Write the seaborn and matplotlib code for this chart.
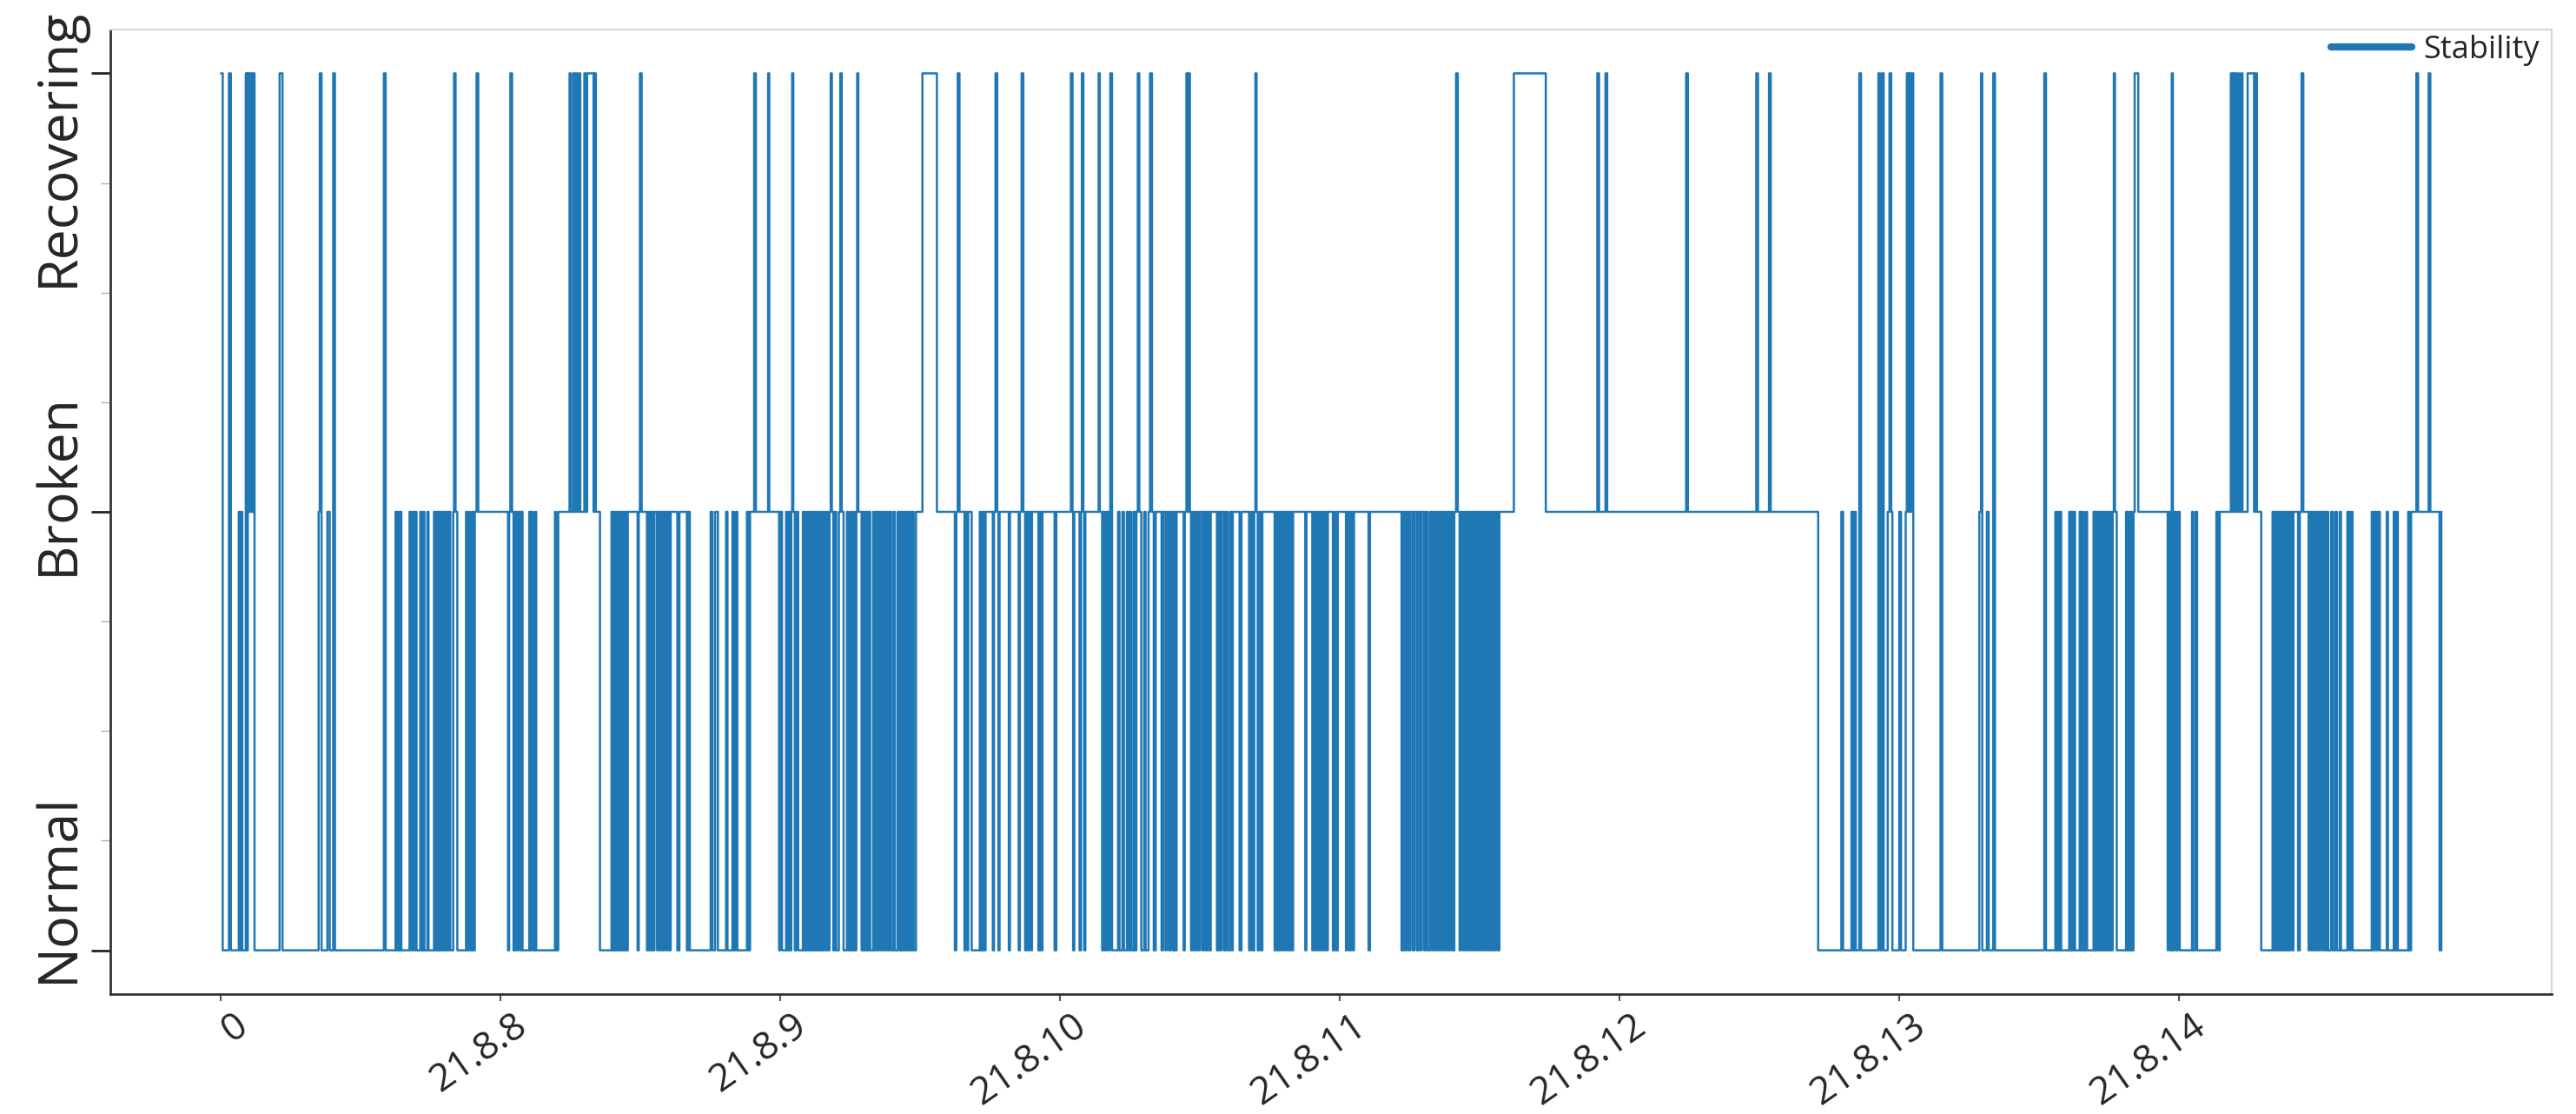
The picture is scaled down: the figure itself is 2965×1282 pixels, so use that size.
import matplotlib
matplotlib.use('Agg')
import matplotlib.pyplot as plt
import matplotlib.transforms as mtransforms
from matplotlib.ticker import MultipleLocator
import seaborn as sns
import pandas as pd

sns.set_style('white')
plt.rcParams['font.family'] = ['Open Sans', 'DejaVu Sans']

state_names = ['Normal', 'Broken', 'Recovering']   # 0, 1, 2
day_ticks = [0, 24, 48, 72, 96, 120, 144, 168]     # hours since start
day_labels = ['0', '21.8.8', '21.8.9', '21.8.10', '21.8.11', '21.8.12', '21.8.13', '21.8.14']
LINE_BLUE = '#1f77b4'

# state changes, (hour since start, new state)
changes_a = [(0.0, 2), (0.15, 0), (0.68, 2), (0.85, 0), (1.53, 1), (1.63, 0), (1.73, 1), (1.83, 0),
             (2.13, 2), (2.23, 0), (2.3, 2), (2.43, 1), (2.53, 2), (2.68, 1), (2.78, 2), (2.88, 0),
             (5.03, 2), (5.28, 0), (8.38, 1), (8.48, 2), (8.63, 0), (9.13, 1), (9.33, 0), (9.63, 2),
             (9.78, 0), (13.98, 2), (14.13, 0), (14.98, 1), (15.08, 0), (15.18, 1), (15.28, 0),
             (15.38, 1), (15.48, 0), (16.18, 1), (16.3, 0), (16.43, 1), (16.55, 0), (16.66, 1),
             (16.78, 0), (17.1, 1), (17.2, 0), (17.36, 1), (17.46, 0), (17.71, 1), (17.81, 0),
             (18.28, 1), (18.38, 0), (18.53, 1), (18.63, 0), (18.73, 1), (18.83, 0), (18.93, 1),
             (19.03, 0), (19.18, 1), (19.28, 0), (19.38, 1), (19.48, 0), (19.58, 1), (19.68, 0),
             (19.93, 1), (20.0, 2), (20.13, 1), (20.28, 0), (21.03, 1), (21.13, 0), (21.23, 1),
             (21.36, 0), (21.53, 1), (21.63, 0), (21.78, 1), (21.93, 2), (22.08, 1), (24.63, 0),
             (24.73, 1), (24.83, 2), (24.98, 1), (25.1, 0), (25.23, 1), (25.38, 0), (25.48, 1),
             (25.63, 0), (25.78, 1), (25.88, 0)]

changes_b = [(26.45, 1), (26.55, 0), (26.65, 1), (26.77, 0), (26.95, 1), (27.05, 0), (28.66, 1),
             (28.76, 0), (28.94, 1), (29.91, 2), (30.01, 1), (30.21, 2), (30.33, 1), (30.45, 2),
             (30.58, 1), (30.73, 2), (30.83, 1), (31.18, 2), (31.3, 1), (31.42, 2), (31.97, 1),
             (32.05, 2), (32.17, 1), (32.52, 0), (33.51, 1), (33.61, 0), (33.71, 1), (33.81, 0),
             (33.91, 1), (34.01, 0), (34.11, 1), (34.21, 0), (34.31, 1), (34.41, 0), (34.51, 1),
             (34.61, 0), (34.71, 1), (34.81, 0), (34.91, 1), (35.75, 0), (35.85, 1), (35.95, 2),
             (36.1, 1), (36.55, 0), (36.67, 1), (36.8, 0), (36.92, 1), (37.05, 0), (37.2, 1),
             (37.42, 0), (37.54, 1), (37.67, 0), (37.79, 1), (37.92, 0), (38.04, 1), (38.19, 0),
             (38.29, 1), (38.44, 0), (38.59, 1), (39.16, 0), (39.34, 1), (39.98, 0), (40.11, 1),
             (40.23, 0), (42.02, 1), (42.17, 0), (42.4, 1), (42.64, 0), (43.34, 1), (43.46, 0),
             (43.89, 1), (44.01, 0), (44.19, 1), (44.31, 0), (45.13, 1), (45.25, 0), (45.4, 1),
             (45.75, 2), (45.9, 1), (46.95, 2), (47.05, 1), (47.89, 0), (47.99, 1), (48.14, 0),
             (48.49, 1), (48.59, 0), (48.69, 1), (48.81, 0), (48.94, 1), (49.01, 2), (49.11, 1),
             (49.24, 0), (49.38, 1), (49.53, 0), (49.93, 1), (50.03, 0), (50.18, 1), (50.3, 0),
             (50.43, 1), (50.53, 0), (50.68, 1), (50.78, 0), (50.93, 1), (51.05, 0), (51.18, 1),
             (51.3, 0), (51.47, 1), (51.57, 0), (51.72, 1), (51.85, 0), (51.97, 1), (52.1, 0),
             (52.22, 1), (52.32, 2), (52.42, 1), (52.54, 0), (52.67, 1), (52.79, 0), (53.02, 1),
             (53.14, 2), (53.27, 1), (53.42, 0), (53.71, 1), (53.84, 0)]

changes_c = [(54.02, 1), (54.12, 0), (54.27, 1), (54.39, 0), (54.52, 1), (54.59, 2), (54.69, 1),
             (54.97, 0), (55.09, 1), (55.21, 0), (55.34, 1), (55.46, 0), (55.59, 1), (55.71, 0),
             (55.96, 1), (56.08, 0), (56.21, 1), (56.33, 0), (56.46, 1), (56.61, 0), (56.76, 1),
             (56.91, 0), (57.08, 1), (57.2, 0), (57.35, 1), (57.5, 0), (57.7, 1), (57.83, 0),
             (58.07, 1), (58.2, 0), (58.35, 1), (58.45, 0), (58.6, 1), (58.7, 0), (58.82, 1),
             (58.95, 0), (59.07, 1), (59.19, 0), (59.32, 1), (59.44, 0), (59.64, 1), (60.19, 2),
             (61.43, 1), (62.97, 0), (63.1, 1), (63.22, 2), (63.37, 1), (63.8, 0), (63.87, 1),
             (64.04, 0), (64.12, 1), (64.42, 0), (65.11, 1), (65.21, 0), (65.36, 1), (65.46, 0),
             (65.61, 1), (66.23, 0), (66.33, 1), (66.46, 2), (66.61, 1), (66.71, 0), (66.81, 1),
             (67.6, 0), (67.7, 1), (68.45, 0), (68.55, 1), (68.7, 2), (68.85, 1), (69.0, 0),
             (69.1, 1), (69.24, 0), (69.34, 1), (69.52, 0), (69.59, 1), (70.14, 0), (70.26, 1),
             (70.39, 0), (70.49, 1), (71.53, 0), (71.68, 1), (72.93, 2), (73.07, 1), (73.12, 0),
             (73.22, 1), (73.67, 0), (73.8, 1), (73.87, 2), (74.0, 1), (74.07, 0), (74.17, 1),
             (75.31, 2), (75.41, 1), (75.61, 0), (75.74, 1), (75.86, 0), (76.01, 1), (76.18, 0),
             (76.31, 2), (76.46, 0), (76.98, 1), (77.1, 0), (77.35, 1), (77.48, 0), (77.73, 1),
             (77.85, 0), (77.97, 1), (78.1, 0), (78.3, 1), (78.4, 0), (78.55, 1), (78.67, 2),
             (78.8, 1), (78.97, 0), (79.22, 1), (79.34, 0), (79.59, 1), (79.72, 2), (79.89, 1),
             (80.04, 0), (80.21, 1), (80.71, 0), (80.84, 1), (81.04, 0), (81.14, 1), (81.33, 0),
             (81.48, 1)]

changes_d = [(81.65, 0), (81.75, 1), (81.85, 0), (82.0, 1), (82.6, 0), (82.7, 1), (82.84, 2),
             (82.94, 1), (83.04, 2), (83.14, 1), (83.24, 0), (83.39, 1), (83.54, 0), (83.69, 1),
             (83.84, 0), (83.99, 1), (84.19, 0), (84.34, 1), (84.49, 0), (84.63, 1), (84.78, 0),
             (84.93, 1), (85.46, 0), (85.58, 1), (85.73, 0), (85.88, 1), (86.08, 0), (86.23, 1),
             (86.38, 0), (86.58, 1), (86.72, 0), (86.82, 1), (87.4, 0), (87.57, 1), (88.22, 0),
             (88.37, 1), (88.52, 0), (88.66, 1), (88.76, 2), (88.86, 1), (88.96, 0), (89.11, 1),
             (89.26, 0), (89.36, 1), (90.41, 0), (90.56, 1), (90.7, 0), (90.85, 1), (91.0, 0),
             (91.15, 1), (91.3, 0), (91.45, 1), (91.6, 0), (91.75, 1), (91.9, 0), (92.0, 1),
             (93.04, 0), (93.14, 1), (93.64, 0), (93.79, 1), (93.94, 0), (94.09, 1), (94.24, 0),
             (94.39, 1), (94.54, 0), (94.68, 1), (94.83, 0), (94.98, 1), (95.41, 0), (95.58, 1),
             (95.73, 0), (95.83, 1), (96.53, 0), (96.68, 1), (96.83, 0), (96.97, 1), (97.12, 0),
             (97.22, 1), (98.47, 0), (98.59, 1), (101.3, 0), (101.45, 1), (101.6, 0), (101.75, 1),
             (101.9, 0), (102.05, 1), (102.25, 0), (102.4, 1), (102.6, 0), (102.74, 1), (102.89, 0),
             (103.04, 1), (103.24, 0), (103.39, 1), (103.54, 0), (103.74, 1), (103.89, 0),
             (104.04, 1), (104.19, 0), (104.34, 1), (104.49, 0), (104.64, 1), (104.78, 0),
             (104.93, 1), (105.08, 0), (105.23, 1), (105.38, 0), (105.53, 1), (105.68, 0),
             (105.83, 1), (105.98, 2), (106.13, 1), (106.28, 0), (106.43, 1), (106.58, 0),
             (106.72, 1), (106.87, 0), (107.02, 1), (107.17, 0), (107.32, 1), (107.47, 0),
             (107.62, 1), (107.77, 0), (107.92, 1), (108.07, 0), (108.22, 1), (108.37, 0),
             (108.52, 1), (108.67, 0), (108.81, 1), (108.96, 0), (109.11, 1)]

changes_e = [(109.25, 0), (109.4, 1), (109.55, 0), (109.7, 1), (110.94, 2), (113.68, 1),
             (118.1, 2), (118.25, 1), (118.8, 2), (118.95, 1), (125.72, 2), (125.87, 1),
             (131.74, 2), (131.89, 1), (132.83, 2), (132.98, 1)]

changes_f = [(137.05, 0), (139.04, 1), (139.19, 0), (139.91, 1), (140.03, 0), (140.16, 1),
             (140.28, 0), (140.58, 2), (140.73, 0), (142.22, 2), (142.37, 0), (142.52, 2),
             (142.67, 0), (143.02, 1), (143.17, 2), (143.32, 1), (143.42, 0), (144.01, 1),
             (144.16, 0), (144.56, 1), (144.66, 2), (144.76, 1), (144.86, 2), (144.96, 1),
             (145.06, 2), (145.21, 0), (147.55, 2), (147.7, 0), (150.88, 1), (151.03, 2),
             (151.13, 0), (151.53, 1), (151.68, 0), (152.07, 2), (152.22, 0), (156.45, 2),
             (156.6, 0), (157.4, 1), (157.5, 0), (157.6, 1), (157.7, 0), (157.8, 1), (157.9, 0),
             (158.59, 1), (158.69, 0), (158.79, 1), (158.89, 0), (158.99, 1), (159.09, 0),
             (159.49, 1), (159.59, 0), (159.74, 1), (159.84, 0), (160.03, 1), (160.13, 0),
             (160.68, 1), (160.78, 0), (160.88, 1), (160.98, 0), (161.08, 1), (161.18, 0),
             (161.28, 1), (161.38, 0), (161.48, 1), (161.58, 0), (161.68, 1), (161.78, 0),
             (161.88, 1), (161.98, 0), (162.07, 1), (162.17, 0), (162.32, 1), (162.42, 2),
             (162.52, 1), (162.67, 0), (163.47, 1), (163.57, 0), (163.72, 1), (163.82, 0),
             (163.92, 1), (164.01, 0), (164.11, 1), (164.21, 2)]

changes_g = [(164.52, 1), (167.04, 0), (167.14, 1), (167.29, 0), (167.39, 2), (167.49, 0),
             (167.63, 1), (167.78, 0), (167.93, 1), (168.08, 0), (169.13, 1), (169.23, 0),
             (169.43, 1), (169.57, 0), (171.22, 1), (171.37, 0), (171.51, 1), (172.46, 2),
             (172.56, 1), (172.66, 2), (172.76, 1), (172.86, 2), (172.96, 1), (173.11, 2),
             (173.21, 1), (173.36, 2), (173.46, 1), (173.9, 2), (174.45, 1), (174.55, 2),
             (174.7, 1), (175.07, 0), (176.04, 1), (176.14, 0), (176.24, 1), (176.34, 0),
             (176.44, 1), (176.54, 0), (176.64, 1), (176.74, 0), (176.84, 1), (176.94, 0),
             (177.09, 1), (177.19, 0), (177.34, 1), (177.44, 0), (177.58, 1), (177.73, 0),
             (177.83, 1), (178.23, 0), (178.38, 1), (178.53, 2), (178.68, 1), (179.13, 0),
             (179.23, 1), (179.38, 0), (179.53, 1), (179.67, 0), (179.82, 1), (179.97, 0),
             (180.12, 1), (180.27, 0), (180.42, 1), (180.57, 0), (180.72, 1), (180.82, 0),
             (181.07, 1), (181.22, 0), (181.42, 1), (181.57, 0), (181.81, 1), (181.91, 0),
             (182.46, 1), (182.61, 0), (182.76, 1), (182.91, 0), (184.55, 1), (184.65, 0),
             (184.8, 1), (184.95, 0), (185.1, 1), (185.25, 0), (185.84, 1), (185.94, 0),
             (186.44, 1), (186.54, 0), (186.69, 1), (186.79, 0), (187.68, 1), (187.78, 0),
             (187.93, 1), (188.38, 2), (188.53, 1), (189.43, 2), (189.58, 1), (190.37, 0),
             (190.52, 1), (190.55, 1)]

rows = changes_a + changes_b + changes_c + changes_d + changes_e + changes_f + changes_g
df = pd.DataFrame(rows, columns=['hour', 'state'])

fig = plt.figure(figsize=(29.65, 12.82), dpi=100)
ax = fig.add_axes([0.0428, 0.1076, 0.9478, 0.8659])

sns.lineplot(data=df, x='hour', y='state', ax=ax, color=LINE_BLUE, linewidth=1.8,
             drawstyle='steps-post', estimator=None, label='Stability')

ax.set_xlim(-9.5, 200.0)
ax.set_ylim(-0.1, 2.1)
ax.set_xlabel('')
ax.set_ylabel('')

ax.set_yticks([0, 1, 2])
ax.set_yticklabels(state_names, rotation=90, va='center', fontsize=45)
ax.yaxis.set_minor_locator(MultipleLocator(0.25))
ax.set_xticks(day_ticks)
ax.set_xticklabels(day_labels, rotation=35, ha='right', rotation_mode='anchor', fontsize=32)

ax.tick_params(axis='y', which='major', left=True, length=16, width=2, color='#222222', pad=4)
ax.tick_params(axis='y', which='minor', left=True, length=8, width=1, color='#b0b0b0')
ax.tick_params(axis='x', which='major', bottom=True, length=6, width=1.5, color='#555555', pad=4)

# the y labels are not centred on their ticks in the original
shift_px = {'Normal': 72, 'Broken': 32, 'Recovering': -85}
for lab in ax.get_yticklabels():
    dy = shift_px[lab.get_text()] / fig.dpi
    lab.set_transform(lab.get_transform() + mtransforms.ScaledTranslation(0, dy, fig.dpi_scale_trans))

# x labels sit a little to the right of their ticks
for lab in ax.get_xticklabels():
    lab.set_transform(lab.get_transform() + mtransforms.ScaledTranslation(0.14, 0, fig.dpi_scale_trans))

for side in ['top', 'right']:
    ax.spines[side].set_color('#d4d4d4')
    ax.spines[side].set_linewidth(1.5)
for side in ['left', 'bottom']:
    ax.spines[side].set_color('#333333')
    ax.spines[side].set_linewidth(2)

leg = ax.legend(loc='upper right', frameon=False, fontsize=26, borderaxespad=0.0,
                bbox_to_anchor=(1.0, 1.008), handlelength=2.6, handletextpad=0.35)
for line in leg.get_lines():
    line.set_linewidth(6)

fig.savefig('out.png', dpi=100)
